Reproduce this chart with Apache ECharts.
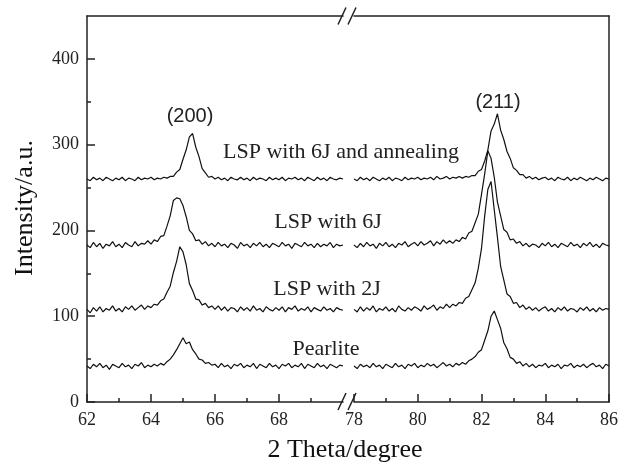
<!DOCTYPE html>
<html><head><meta charset="utf-8">
<script src="https://cdn.jsdelivr.net/npm/echarts@6/dist/echarts.min.js"></script>
<style>html,body{margin:0;padding:0;background:#fff}#c{width:620px;height:466px}</style>
</head><body><div id="c"></div>
<script>
// 2 Theta values, left segment (62-70) and right segment (78-86)
const xLeft = [62.0,62.1,62.2,62.3,62.4,62.5,62.6,62.7,62.8,62.9,
63.0,63.1,63.2,63.3,63.4,63.5,63.6,63.7,63.8,63.9,
64.0,64.1,64.2,64.3,64.4,64.5,64.6,64.7,64.8,64.9,
65.0,65.1,65.2,65.3,65.4,65.5,65.6,65.7,65.8,65.9,
66.0,66.1,66.2,66.3,66.4,66.5,66.6,66.7,66.8,66.9,
67.0,67.1,67.2,67.3,67.4,67.5,67.6,67.7,67.8,67.9,
68.0,68.1,68.2,68.3,68.4,68.5,68.6,68.7,68.8,68.9,
69.0,69.1,69.2,69.3,69.4,69.5,69.6,69.7,69.8,69.9,70.0];
const xRight = [78.0,78.1,78.2,78.3,78.4,78.5,78.6,78.7,78.8,78.9,
79.0,79.1,79.2,79.3,79.4,79.5,79.6,79.7,79.8,79.9,
80.0,80.1,80.2,80.3,80.4,80.5,80.6,80.7,80.8,80.9,
81.0,81.1,81.2,81.3,81.4,81.5,81.6,81.7,81.8,81.9,
82.0,82.1,82.2,82.3,82.4,82.5,82.6,82.7,82.8,82.9,
83.0,83.1,83.2,83.3,83.4,83.5,83.6,83.7,83.8,83.9,
84.0,84.1,84.2,84.3,84.4,84.5,84.6,84.7,84.8,84.9,
85.0,85.1,85.2,85.3,85.4,85.5,85.6,85.7,85.8,85.9,86.0];

const pearliteLeft = [42,39,44,41,45,40,43,38,44,42,
40,45,41,43,39,44,42,46,40,43,
41,44,42,45,43,47,50,55,61,68,
75,68,70,61,56,50,49,45,46,43,
44,40,45,41,43,39,44,42,45,40,
43,41,45,39,44,42,40,45,41,43,
39,44,42,45,40,43,41,45,39,44,
42,40,45,41,43,39,44,42,40,43,42];
const pearliteRight = [42,39,44,41,43,40,45,41,43,39,
44,42,40,45,41,43,39,44,42,45,
40,43,41,45,42,44,40,43,46,42,
44,41,45,43,46,44,48,50,53,58,
61,72,83,100,106,96,86,69,62,52,
50,45,47,42,45,41,44,40,43,42,
45,40,43,41,44,39,43,42,45,40,
43,41,44,40,43,45,41,43,39,44,42];

const lsp2JLeft = [108,104,110,106,111,105,109,107,112,106,
109,105,111,108,112,107,110,113,108,112,
110,114,113,118,120,128,135,151,164,181,
175,160,138,130,120,119,113,115,110,112,
108,112,107,111,106,110,109,105,111,107,
110,106,112,107,109,105,111,108,106,110,
107,111,105,110,108,112,106,109,107,111,
105,110,108,106,111,107,109,105,110,108,107];
const lsp2JRight = [108,105,111,106,110,107,112,105,109,107,
111,106,109,105,112,108,106,110,107,111,
109,106,112,108,110,113,107,111,109,114,
110,114,112,116,115,121,123,131,139,156,
179,217,248,257,224,192,158,142,126,123,
115,116,110,113,108,111,107,110,106,109,
111,106,109,105,110,107,111,106,109,108,
105,110,107,111,106,109,105,110,107,109,108];

const lsp6JLeft = [183,180,186,181,185,179,184,182,187,181,
184,180,186,183,181,187,182,185,184,188,
184,189,187,193,194,205,217,235,238,237,
229,216,200,196,188,189,184,187,182,185,
181,186,182,184,180,185,183,179,186,182,
184,180,185,182,186,181,184,180,185,183,
181,186,182,184,179,185,183,181,186,182,
184,180,185,181,184,182,186,180,184,182,183];
const lsp6JRight = [183,180,185,181,186,182,184,179,185,182,
186,181,184,180,185,183,187,181,184,186,
182,187,183,185,188,182,187,184,189,185,
188,185,189,187,192,190,197,199,209,219,
242,266,293,284,262,233,217,201,198,189,
190,185,187,182,185,181,184,183,180,185,
182,186,181,184,180,185,183,181,186,182,
184,180,185,182,186,181,184,180,185,183,182];

const annealLeft = [260,258,262,259,261,258,262,260,258,261,
259,262,258,261,260,258,262,259,261,260,
262,259,261,260,262,261,263,263,268,271,
283,294,309,313,297,286,272,267,262,263,
260,262,259,261,258,262,260,259,262,259,
261,258,262,259,261,260,258,262,259,261,
259,262,258,261,260,262,259,261,258,262,
260,258,262,259,261,258,262,260,259,261,260];
const annealRight = [260,258,262,259,261,258,262,260,258,261,
259,262,258,261,260,258,262,259,261,260,
262,259,261,260,262,259,263,260,261,263,
260,262,261,263,261,263,262,264,264,269,
271,281,294,316,324,336,317,306,292,284,
273,270,265,265,261,263,260,262,259,261,
262,259,261,258,262,260,259,262,258,261,
259,262,260,258,261,259,262,260,258,261,260];

const xTicksLeft = [62,64,66,68];
const xMinorLeft = [63,65,67,69];
const xTicksRight = [78,80,82,84,86];
const xMinorRight = [79,81,83,85];
const yTicks = [0,100,200,300,400];
const yMinor = [50,150,250,350];

const sampleLabels = ['LSP with 6J and annealing','LSP with 6J','LSP with 2J','Pearlite'];
const peakLabels = ['(200)','(211)'];

const SERIF = "'Liberation Serif','Times New Roman',serif";
const SANS = "'Liberation Sans',Arial,sans-serif";
const AX = '#222';

function pairs(xs, ys){ return xs.map((x,i)=>[x, ys[i]]); }

function mainX(grid, min, max, ticks){
  return {gridIndex:grid, type:'value', min:min, max:max, position:'bottom',
    axisLine:{show:true, onZero:false, lineStyle:{color:AX, width:1.5}},
    axisTick:{show:true, inside:true, length:8, customValues:ticks, lineStyle:{color:AX, width:1.5}},
    axisLabel:{show:true, customValues:ticks, margin:9, fontSize:18, fontFamily:SERIF, color:'#222'},
    splitLine:{show:false}};
}
function minorX(grid, min, max, ticks){
  return {gridIndex:grid, type:'value', min:min, max:max, position:'bottom',
    axisLine:{show:false, onZero:false},
    axisTick:{show:true, inside:true, length:4, customValues:ticks, lineStyle:{color:AX, width:1.5}},
    axisLabel:{show:false}, splitLine:{show:false}};
}
function topX(grid, min, max){
  return {gridIndex:grid, type:'value', min:min, max:max, position:'top',
    axisLine:{show:true, onZero:false, lineStyle:{color:AX, width:1.5}},
    axisTick:{show:false}, axisLabel:{show:false}, splitLine:{show:false}};
}
function line(name, xi, yi, xs, ys){
  return {name:name, type:'line', xAxisIndex:xi, yAxisIndex:yi, data:pairs(xs, ys),
    showSymbol:false, symbol:'none', lineStyle:{color:'#111', width:1.2}, z:3};
}

const chart = echarts.init(document.getElementById('c'), null, {renderer:'canvas'});
chart.setOption({
  animation:false,
  backgroundColor:'#fff',
  grid:[
    {left:87, top:16, width:256, height:386, outerBoundsMode:'none'},
    {left:354, top:16, width:255, height:386, outerBoundsMode:'none'}
  ],
  xAxis:[
    mainX(0,62,70,xTicksLeft), minorX(0,62,70,xMinorLeft), topX(0,62,70),
    mainX(1,78,86,xTicksRight), minorX(1,78,86,xMinorRight), topX(1,78,86)
  ],
  yAxis:[
    {gridIndex:0, type:'value', min:0, max:450, position:'left',
      axisLine:{show:true, onZero:false, lineStyle:{color:AX, width:1.5}},
      axisTick:{show:true, inside:true, length:8, customValues:yTicks, lineStyle:{color:AX, width:1.5}},
      axisLabel:{show:true, customValues:yTicks, margin:8, fontSize:18, fontFamily:SERIF, color:'#222'},
      splitLine:{show:false}},
    {gridIndex:0, type:'value', min:0, max:450, position:'left',
      axisLine:{show:false, onZero:false},
      axisTick:{show:true, inside:true, length:4, customValues:yMinor, lineStyle:{color:AX, width:1.5}},
      axisLabel:{show:false}, splitLine:{show:false}},
    {gridIndex:1, type:'value', min:0, max:450, position:'right',
      axisLine:{show:true, onZero:false, lineStyle:{color:AX, width:1.5}},
      axisTick:{show:false}, axisLabel:{show:false}, splitLine:{show:false}}
  ],
  series:[
    line('Pearlite', 0, 0, xLeft, pearliteLeft),
    line('Pearlite', 3, 2, xRight, pearliteRight),
    line('LSP with 2J', 0, 0, xLeft, lsp2JLeft),
    line('LSP with 2J', 3, 2, xRight, lsp2JRight),
    line('LSP with 6J', 0, 0, xLeft, lsp6JLeft),
    line('LSP with 6J', 3, 2, xRight, lsp6JRight),
    line('LSP with 6J and annealing', 0, 0, xLeft, annealLeft),
    line('LSP with 6J and annealing', 3, 2, xRight, annealRight)
  ],
  graphic:[
    // axis break marks
    {type:'line', shape:{x1:338,y1:24.5,x2:346,y2:7.5}, style:{stroke:AX, lineWidth:1.5}},
    {type:'line', shape:{x1:348,y1:24.5,x2:356,y2:7.5}, style:{stroke:AX, lineWidth:1.5}},
    {type:'line', shape:{x1:338,y1:410,x2:346,y2:393}, style:{stroke:AX, lineWidth:1.5}},
    {type:'line', shape:{x1:348,y1:410,x2:356,y2:393}, style:{stroke:AX, lineWidth:1.5}},
    // peak labels
    {type:'text', x:190, y:116, style:{text:peakLabels[0], font:'20px '+SANS, fill:'#222', textAlign:'center', textVerticalAlign:'middle'}},
    {type:'text', x:498, y:102, style:{text:peakLabels[1], font:'20px '+SANS, fill:'#222', textAlign:'center', textVerticalAlign:'middle'}},
    // sample labels
    {type:'text', x:341, y:152, style:{text:sampleLabels[0], font:'22px '+SERIF, fill:'#222', textAlign:'center', textVerticalAlign:'middle'}},
    {type:'text', x:328, y:222, style:{text:sampleLabels[1], font:'22px '+SERIF, fill:'#222', textAlign:'center', textVerticalAlign:'middle'}},
    {type:'text', x:327, y:289, style:{text:sampleLabels[2], font:'22px '+SERIF, fill:'#222', textAlign:'center', textVerticalAlign:'middle'}},
    {type:'text', x:326, y:349, style:{text:sampleLabels[3], font:'22px '+SERIF, fill:'#222', textAlign:'center', textVerticalAlign:'middle'}},
    // axis titles
    {type:'text', x:345, y:450, style:{text:'2 Theta/degree', font:'26px '+SERIF, fill:'#111', textAlign:'center', textVerticalAlign:'middle'}},
    {type:'text', x:25, y:208, rotation:Math.PI/2, style:{text:'Intensity/a.u.', font:'26px '+SERIF, fill:'#111', textAlign:'center', textVerticalAlign:'middle'}}
  ]
});
</script>
</body></html>
